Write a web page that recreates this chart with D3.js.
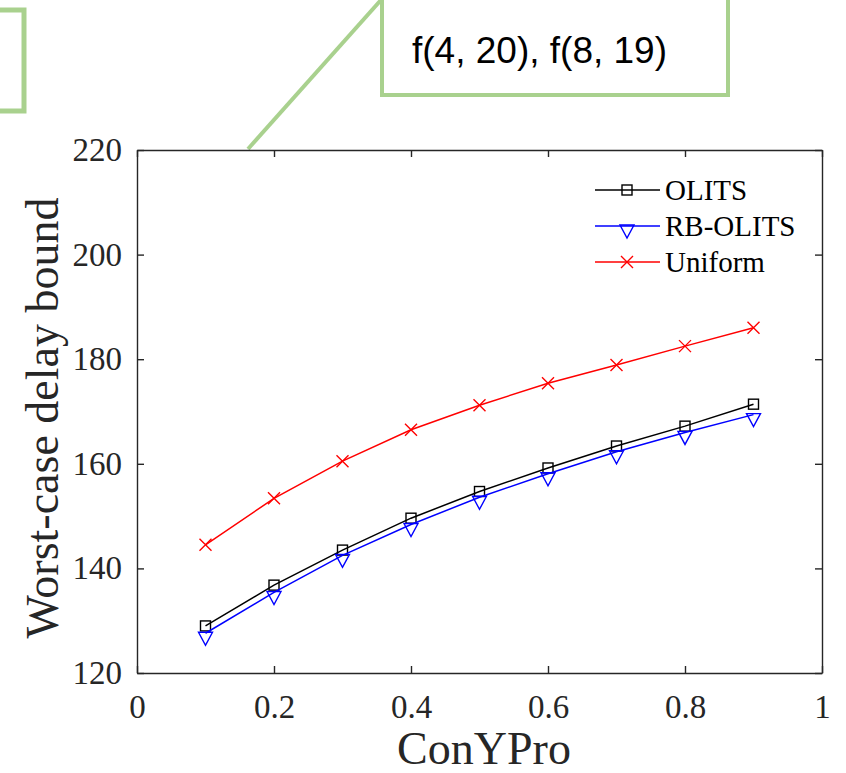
<!DOCTYPE html>
<html>
<head>
<meta charset="utf-8">
<script src="https://cdn.jsdelivr.net/npm/d3@7"></script>
<style>
  html, body { margin: 0; padding: 0; background: #fff; }
  svg { display: block; }
</style>
</head>
<body>
<svg id="chart" width="846" height="773"></svg>
<script>
// ConYPro sweep and worst-case delay bound per scheme
const conYPro = [0.1, 0.2, 0.3, 0.4, 0.5, 0.6, 0.7, 0.8, 0.9];
const olits   = [129.0, 136.8, 143.5, 149.6, 154.7, 159.2, 163.4, 167.2, 171.4];
const rbOlits = [127.6, 135.4, 142.5, 148.4, 153.6, 158.1, 162.3, 166.0, 169.4];
const uniform = [144.5, 153.4, 160.5, 166.5, 171.2, 175.4, 178.9, 182.5, 186.0];

const xTicks = [0, 0.2, 0.4, 0.6, 0.8, 1];
const yTicks = [120, 140, 160, 180, 200, 220];
const seriesNames = ["OLITS", "RB-OLITS", "Uniform"];
const calloutText = "f(4, 20), f(8, 19)";

const svg = d3.select("#chart");
const plot = { left: 137, right: 822, top: 150, bottom: 673 };

const x = d3.scaleLinear().domain([0, 1]).range([plot.left, plot.right]);
const y = d3.scaleLinear().domain([120, 220]).range([plot.bottom, plot.top]);

const axisColor = "#262626";
const serif = "'Liberation Serif', 'Times New Roman', serif";

// callout boxes and leader line
const green = "#a9d18e";
svg.append("rect").attr("x", -20).attr("y", 10).attr("width", 44).attr("height", 101)
  .attr("fill", "none").attr("stroke", green).attr("stroke-width", 5);
svg.append("line").attr("x1", 248).attr("y1", 149).attr("x2", 381).attr("y2", 0)
  .attr("stroke", green).attr("stroke-width", 4);
svg.append("rect").attr("x", 382).attr("y", -10).attr("width", 346).attr("height", 105)
  .attr("fill", "#fff").attr("stroke", green).attr("stroke-width", 4);
svg.append("text").attr("x", 412).attr("y", 63)
  .attr("font-family", "'Liberation Sans', Arial, sans-serif").attr("font-size", 37)
  .attr("fill", "#000").text(calloutText);

// axes with inward ticks on all four sides
const tickLen = 7;
const gx = svg.append("g").attr("transform", `translate(0,${plot.bottom})`)
  .call(d3.axisBottom(x).tickValues(xTicks).tickFormat(d3.format("")).tickSizeInner(-tickLen).tickSizeOuter(0).tickPadding(22));
const gxTop = svg.append("g").attr("transform", `translate(0,${plot.top})`)
  .call(d3.axisTop(x).tickValues(xTicks).tickFormat("").tickSizeInner(-tickLen).tickSizeOuter(0));
const gy = svg.append("g").attr("transform", `translate(${plot.left},0)`)
  .call(d3.axisLeft(y).tickValues(yTicks).tickSizeInner(-tickLen).tickSizeOuter(0).tickPadding(15));
const gyRight = svg.append("g").attr("transform", `translate(${plot.right},0)`)
  .call(d3.axisRight(y).tickValues(yTicks).tickFormat("").tickSizeInner(-tickLen).tickSizeOuter(0));

[gx, gxTop, gy, gyRight].forEach(g => {
  g.select(".domain").attr("stroke", axisColor).attr("stroke-width", 1.4);
  g.selectAll(".tick line").attr("stroke", axisColor).attr("stroke-width", 1.4);
  g.selectAll(".tick text").attr("font-family", serif).attr("font-size", 33).attr("fill", axisColor);
});
gx.selectAll(".tick text").attr("dy", "0.71em");

// axis titles
svg.append("text").attr("x", 484).attr("y", 764).attr("text-anchor", "middle")
  .attr("font-family", serif).attr("font-size", 46).attr("fill", axisColor).text("ConYPro");
svg.append("text").attr("transform", "translate(58,418) rotate(-90)").attr("text-anchor", "middle")
  .attr("font-family", serif).attr("font-size", 46).attr("fill", axisColor).text("Worst-case delay bound");

const series = [
  { name: seriesNames[0], values: olits, color: "#000000", marker: "square" },
  { name: seriesNames[1], values: rbOlits, color: "#0000ff", marker: "triangle" },
  { name: seriesNames[2], values: uniform, color: "#ff0000", marker: "cross" }
];

function drawMarker(g, kind, cx, cy, color) {
  if (kind === "square") {
    g.append("rect").attr("x", cx - 5).attr("y", cy - 5).attr("width", 10).attr("height", 10)
      .attr("fill", "none").attr("stroke", color).attr("stroke-width", 1.4);
  } else if (kind === "triangle") {
    g.append("path").attr("d", `M${cx - 7},${cy - 1}L${cx + 7},${cy - 1}L${cx},${cy + 12}Z`)
      .attr("fill", "none").attr("stroke", color).attr("stroke-width", 1.4);
  } else {
    const s = 6;
    g.append("path").attr("d", `M${cx - s},${cy - s}L${cx + s},${cy + s}M${cx - s},${cy + s}L${cx + s},${cy - s}`)
      .attr("fill", "none").attr("stroke", color).attr("stroke-width", 1.4);
  }
}

const line = d3.line().x(d => x(d[0])).y(d => y(d[1]));
series.forEach(s => {
  const pts = conYPro.map((c, i) => [c, s.values[i]]);
  const g = svg.append("g");
  g.append("path").attr("d", line(pts)).attr("fill", "none")
    .attr("stroke", s.color).attr("stroke-width", 1.5);
  pts.forEach(p => drawMarker(g, s.marker, x(p[0]), y(p[1]), s.color));
});

// legend
const legend = svg.append("g");
series.forEach((s, i) => {
  const ly = 190 + i * 36;
  legend.append("line").attr("x1", 595).attr("x2", 660).attr("y1", ly).attr("y2", ly)
    .attr("stroke", s.color).attr("stroke-width", 1.5);
  drawMarker(legend, s.marker, 627, ly, s.color);
  legend.append("text").attr("x", 665).attr("y", ly + 10)
    .attr("font-family", serif).attr("font-size", 29).attr("fill", "#000").text(s.name);
});
</script>
</body>
</html>
